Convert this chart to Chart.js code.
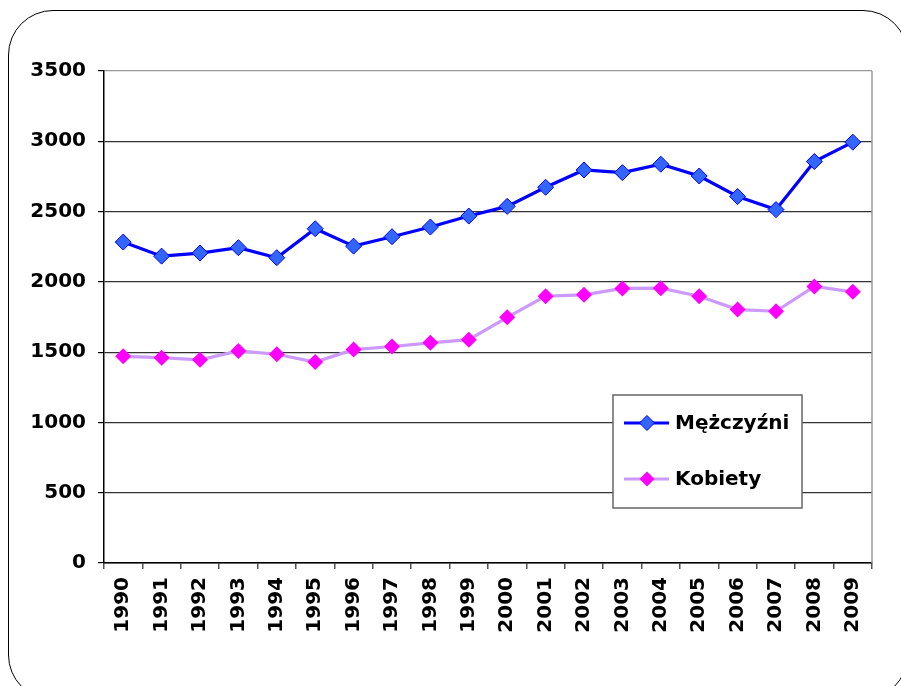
<!DOCTYPE html>
<html><head><meta charset="utf-8">
<script src="https://cdn.jsdelivr.net/npm/chart.js@4/dist/chart.umd.min.js"></script>
<style>
html,body{margin:0;padding:0;background:#fff;overflow:hidden}
#frame{position:absolute;left:8px;top:10px;width:900px;height:690px;border:1.5px solid #000;border-radius:45px;box-sizing:border-box}
#wrap{position:absolute;left:0;top:0;width:901px;height:686px}
</style></head><body>
<div id="frame"></div>
<div id="wrap"><canvas id="c" width="901" height="686"></canvas></div>
<script>
const years = ['1990','1991','1992','1993','1994','1995','1996','1997','1998','1999','2000','2001','2002','2003','2004','2005','2006','2007','2008','2009'];
const men = [2283,2183,2205,2243,2172,2378,2254,2321,2390,2468,2537,2673,2796,2777,2837,2753,2607,2514,2856,2994];
const women = [1470,1461,1445,1509,1485,1430,1518,1540,1566,1589,1748,1898,1908,1953,1955,1898,1803,1791,1967,1929];
const seriesNames = ['Mężczyźni','Kobiety'];
const yTicks = [0,500,1000,1500,2000,2500,3000,3500];

const FONT = 'bold 20px "DejaVu Sans"';

const frameAndLegend = {
  id:'frameAndLegend',
  beforeDatasetsDraw(chart){
    const {ctx, chartArea:a} = chart;
    ctx.save();
    ctx.strokeStyle='#999'; ctx.lineWidth=1.5;
    ctx.beginPath(); ctx.moveTo(a.right, a.top); ctx.lineTo(a.right, a.bottom); ctx.stroke();
    ctx.restore();
  },
  afterDraw(chart){
    const {ctx} = chart;
    ctx.save();
    const bx=613, by=395, bw=189, bh=113;
    ctx.fillStyle='#fff'; ctx.fillRect(bx,by,bw,bh);
    ctx.strokeStyle='#666'; ctx.lineWidth=1.5; ctx.strokeRect(bx,by,bw,bh);
    const ys=[423,479];
    chart.data.datasets.forEach((ds,i)=>{
      const y=ys[i];
      ctx.strokeStyle=ds.borderColor; ctx.lineWidth=3;
      ctx.beginPath(); ctx.moveTo(624,y); ctx.lineTo(669,y); ctx.stroke();
      ctx.fillStyle=ds.pointBackgroundColor; ctx.strokeStyle=ds.pointBorderColor;
      ctx.beginPath();
      ctx.moveTo(647,y-7.5);ctx.lineTo(654.5,y);ctx.lineTo(647,y+7.5);ctx.lineTo(639.5,y);ctx.closePath();
      ctx.fill(); if(ds.pointBorderWidth) {ctx.lineWidth=ds.pointBorderWidth; ctx.stroke();}
      ctx.fillStyle='#000'; ctx.font=FONT; ctx.textBaseline='middle'; ctx.textAlign='left';
      ctx.fillText(ds.label,675,y+1);
    });
    ctx.restore();
  }
};

new Chart(document.getElementById('c'),{
  type:'line',
  data:{labels:years,datasets:[
    {label:seriesNames[0],data:men,borderColor:'#0000FF',borderWidth:3.2,pointStyle:'rectRot',pointRadius:8,pointBackgroundColor:'#3366FF',pointBorderColor:'#0000FF',pointBorderWidth:1,tension:0},
    {label:seriesNames[1],data:women,borderColor:'#CC99FF',borderWidth:3.2,pointStyle:'rectRot',pointRadius:8,pointBackgroundColor:'#FF00FF',pointBorderColor:'#FF00FF',pointBorderWidth:0,tension:0}
  ]},
  options:{
    responsive:false,animation:false,
    layout:{padding:{left:0,top:71,right:29,bottom:0}},
    plugins:{legend:{display:false},tooltip:{enabled:false}},
    scales:{
      x:{offset:true,
        grid:{offset:true,drawOnChartArea:false,drawTicks:true,tickLength:6,color:'#555',lineWidth:1.5},
        border:{color:'#000',width:1.5},
        ticks:{font:{family:'DejaVu Sans',weight:'bold',size:20},color:'#000',minRotation:90,maxRotation:90,padding:8,autoSkip:false},
        afterFit(s){s.height=123;}
      },
      y:{min:0,max:3500,
        afterBuildTicks(s){s.ticks=yTicks.map(v=>({value:v}));},
        grid:{color:c=>c.tick&&c.tick.value===3500?'#999':'#333',lineWidth:1.2,tickLength:6,tickColor:'#000'},
        border:{color:'#000',width:1.5},
        ticks:{font:{family:'DejaVu Sans',weight:'bold',size:20},color:'#000',padding:12,callback:v=>String(v)},
        afterFit(s){s.width=104;}
      }
    }
  },
  plugins:[frameAndLegend]
});
</script>
</body></html>
